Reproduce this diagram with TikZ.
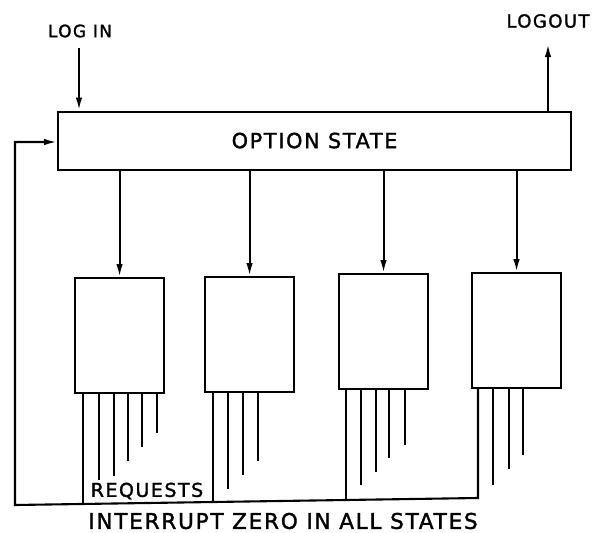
\documentclass[tikz,border=0pt]{standalone}
\usepackage{fontspec}
\setmainfont{DejaVu Sans}
\newfontfamily\lbl[LetterSpace=8,FakeBold=1.5]{DejaVu Sans}
\usetikzlibrary{arrows.meta,calc}
\begin{document}
\begin{tikzpicture}[x=1pt,y=-1pt,
  line width=2.1pt,
  box/.style={draw,rectangle,line width=2.1pt,minimum width=89pt,minimum height=115pt,inner sep=0pt,anchor=north west},
  arr/.style={line width=2.1pt,-{Latex[length=13pt,width=6.5pt]}},
  txt/.style={inner sep=0pt}]
\useasboundingbox (0,0) rectangle (592,533);
% main state
\node[draw,rectangle,line width=2.1pt,minimum width=513pt,minimum height=58pt,inner sep=0pt,anchor=north west,
      font=\lbl\fontsize{20.8}{23}\selectfont] (opt) at (57,110.5) {\raisebox{-2pt}{OPTION STATE}};
% sub-state boxes
\node[box] (b1) at (74,277) {};
\node[box] (b2) at (204,276) {};
\node[box] (b3) at (338,273) {};
\node[box] (b4) at (471,272) {};
% arrows to boxes
\foreach \b in {b1,b2,b3,b4}
  \draw[arr] (\b.north |- opt.south) -- (\b.north);
% log in / logout
\node[txt,font=\lbl\fontsize{17}{19}\selectfont] (login) at (80,31) {LOG IN};
\node[txt,font=\lbl\fontsize{18}{20}\selectfont] (logout) at (548,21) {LOGOUT};
\coordinate (lin) at (79,48);
\coordinate (lout) at (548,44);
\draw[arr] (lin) -- (lin |- opt.north);
\draw[arr] (lout |- opt.north) -- (lout);
% request lines
\foreach \x/\y in {99/480,114/476,128/461,142/447,157/433}
  \draw (\x,0 |- b1.south) -- (\x,\y);
\foreach \x/\y in {228/489,243/475,258/461}
  \draw (\x,0 |- b2.south) -- (\x,\y);
\foreach \x/\y in {361/485,376/472,389/458,405/445}
  \draw (\x,0 |- b3.south) -- (\x,\y);
\foreach \x/\y in {493/485,509/469,523/455}
  \draw (\x,0 |- b4.south) -- (\x,\y);
% interrupt zero bus
\coordinate (busR) at (478,498);
\coordinate (busL) at (15,505);
\coordinate (fb) at (15,142);
\draw (83,0 |- b1.south) -- (83,504);
\draw (213,0 |- b2.south) -- (213,502);
\draw (346,0 |- b3.south) -- (346,500);
\draw[arr] (478,0 |- b4.south) -- (busR) -- (busL) -- (fb) -- (fb -| opt.west);
% labels
\node[txt,font=\lbl\fontsize{19}{21}\selectfont] (req) at (147,491) {REQUESTS};
\node[txt,font=\lbl\fontsize{21.6}{24}\selectfont] (intz) at (283,521) {INTERRUPT ZERO IN ALL STATES};
\end{tikzpicture}
\end{document}
